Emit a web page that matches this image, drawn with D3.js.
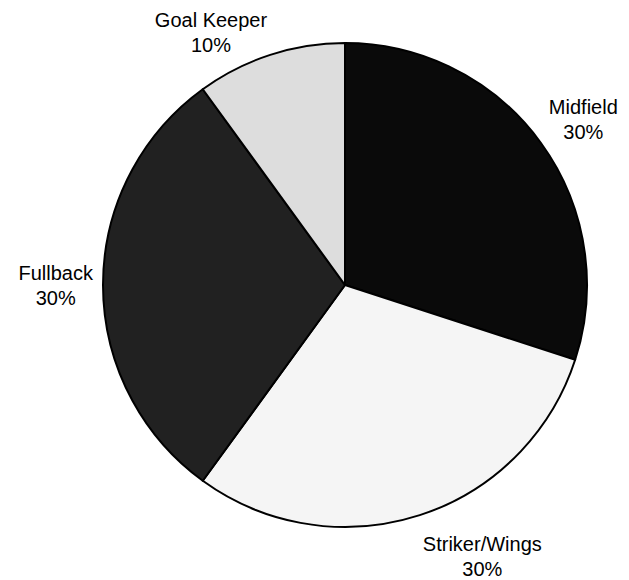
<!DOCTYPE html>
<html>
<head>
<meta charset="utf-8">
<script src="https://cdn.jsdelivr.net/npm/d3@7"></script>
<style>
  html, body { margin: 0; padding: 0; background: #ffffff; }
  svg { display: block; }
  text { font-family: "Liberation Sans", Arial, sans-serif; fill: #000; }
</style>
</head>
<body>
<svg id="chart" width="629" height="580"></svg>
<script>
// Squad make-up by playing position (percent of players)
const positions = ["Midfield", "Striker/Wings", "Fullback", "Goal Keeper"];
const shares = [30, 30, 30, 10];
const sliceColors = ["#0a0a0a", "#f5f5f5", "#212121", "#dddddd"];

const width = 629, height = 580;
const cx = 345, cy = 285, radius = 242;
const fontSize = 20, lineHeight = 25, labelGap = 10;

const svg = d3.select("#chart");
const g = svg.append("g").attr("transform", `translate(${cx},${cy})`);

const data = positions.map((name, i) => ({ name, value: shares[i], color: sliceColors[i] }));

const pie = d3.pie().value(d => d.value).sort(null);
const arcs = pie(data);

const arc = d3.arc().innerRadius(0).outerRadius(radius);

g.selectAll("path.slice")
  .data(arcs)
  .join("path")
  .attr("class", "slice")
  .attr("d", arc)
  .attr("fill", d => d.data.color)
  .attr("stroke", "#000")
  .attr("stroke-width", 2)
  .attr("stroke-linejoin", "round");

// Outside-end labels: anchored just beyond the rim, pushed away from the pie
const total = d3.sum(shares);
g.selectAll("g.label")
  .data(arcs)
  .join("g")
  .attr("class", "label")
  .each(function (d) {
    const mid = (d.startAngle + d.endAngle) / 2;
    const s = Math.sin(mid), c = Math.cos(mid);
    const px = s * (radius + labelGap);
    const py = -c * (radius + labelGap);
    const blockH = lineHeight * 2;
    // vertical centre of the two-line block, shifted away from the pie
    const centreY = py - c * blockH / 2 + 8 * c * c - 12 * s * c;
    const pct = Math.round(d.data.value / total * 100) + "%";
    const t = d3.select(this).append("text")
      .attr("text-anchor", "middle")
      .attr("font-size", fontSize);
    let firstBaseline = centreY - lineHeight / 2 + fontSize * 0.36;
    // keep the block inside the drawing area
    const maxLast = height - 4 - cy;
    if (firstBaseline + lineHeight > maxLast) firstBaseline = maxLast - lineHeight;
    const spans = [d.data.name, pct].map((str, i) =>
      t.append("tspan").attr("y", firstBaseline + i * lineHeight).text(str));
    // block width, so the block's near edge sits at the anchor point
    const w = d3.max(spans, sp => sp.node().getComputedTextLength());
    const side = s > 0.05 ? 1 : (s < -0.05 ? -1 : 0);
    spans.forEach(sp => sp.attr("x", px + side * w / 2));
  });
</script>
</body>
</html>
